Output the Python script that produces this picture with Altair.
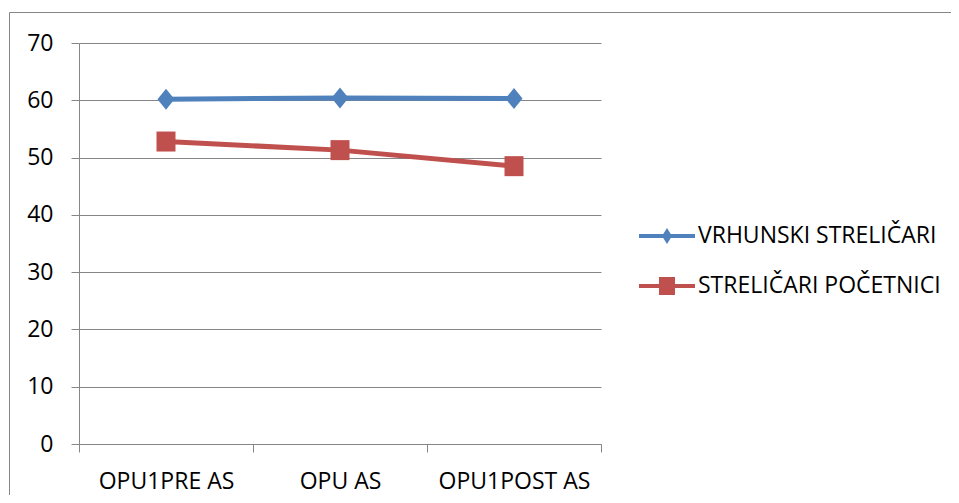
import altair as alt
import pandas as pd

categories = ["OPU1PRE AS", "OPU AS", "OPU1POST AS"]
series_names = ["VRHUNSKI STRELIČARI", "STRELIČARI POČETNICI"]
vrhunski = [60.2, 60.4, 60.3]
pocetnici = [52.8, 51.3, 48.5]
colors = ["#4F81BD", "#C0504D"]

rows = []
for c, v in zip(categories, vrhunski):
    rows.append({"cat": c, "series": series_names[0], "value": v})
for c, v in zip(categories, pocetnici):
    rows.append({"cat": c, "series": series_names[1], "value": v})
df = pd.DataFrame(rows)

FONT = "Open Sans"
FS = 23
W, H = 522, 401

marker_paths = ["M0,-1L0.81,0L0,1L-0.81,0Z", "M-0.95,-1H0.95V1H-0.95Z"]
legend_paths = [
    "M-1,-0.0714H-0.134L0,-0.286L0.134,-0.0714H1V0.0714H0.134L0,0.286L-0.134,0.0714H-1Z",
    "M-1,-0.0714H-0.286V-0.32H0.286V-0.0714H1V0.0714H0.286V0.32H-0.286V0.0714H-1Z",
]

legend_def = alt.Legend(title=None, orient="none", legendX=560, legendY=165,
                        symbolSize=3136, symbolStrokeWidth=0, labelFontSize=FS,
                        labelFont=FONT, labelColor="#000000", labelOffset=3,
                        rowPadding=10, padding=0, labelLimit=400)

x_enc = alt.X("cat:N", sort=categories, title=None,
              scale=alt.Scale(paddingInner=0, paddingOuter=0),
              axis=alt.Axis(labelAngle=0, labelFontSize=FS, labelFont=FONT, labelColor="#000000",
                            domainColor="#868686", tickColor="#868686", tickSize=8,
                            tickBand="extent", labelPadding=18, grid=False))
y_enc = alt.Y("value:Q", title=None,
              scale=alt.Scale(domain=[0, 70], nice=False),
              axis=alt.Axis(values=list(range(0, 71, 10)), labelFontSize=FS, labelFont=FONT,
                            labelColor="#000000", domainColor="#868686", tickColor="#868686",
                            tickSize=8, labelPadding=18, gridColor="#868686", gridWidth=1))
color_enc = alt.Color("series:N", sort=series_names,
                      scale=alt.Scale(domain=series_names, range=colors), legend=legend_def)

lines = alt.Chart(df).mark_line(strokeWidth=5).encode(x=x_enc, y=y_enc, color=color_enc)

pts_blue = alt.Chart(df[df["series"] == series_names[0]]).mark_point(
    filled=True, opacity=1, size=441, strokeWidth=0, shape=marker_paths[0]
).encode(x=x_enc, y=y_enc, color=color_enc)
pts_red = alt.Chart(df[df["series"] == series_names[1]]).mark_point(
    filled=True, opacity=1, size=400, strokeWidth=0, shape=marker_paths[1]
).encode(x=x_enc, y=y_enc, color=color_enc)

legend_layer = alt.Chart(pd.DataFrame({"series": series_names})).mark_point(
    filled=True, opacity=1, strokeWidth=0
).encode(
    x=alt.value(-2000), y=alt.value(-2000),
    color=color_enc,
    shape=alt.Shape("series:N", sort=series_names,
                    scale=alt.Scale(domain=series_names, range=legend_paths),
                    legend=legend_def),
)

TOTAL_W, TOTAL_H = 943, 487
frame = pd.DataFrame({"a": [0]})
border_left = alt.Chart(frame).mark_rule(stroke="#868686", strokeWidth=1, clip=False).encode(
    x=alt.value(-69.5), y=alt.value(-30.5), y2=alt.value(TOTAL_H - 35))
border_top = alt.Chart(frame).mark_rule(stroke="#868686", strokeWidth=1, clip=False).encode(
    x=alt.value(-69.5), x2=alt.value(TOTAL_W - 71), y=alt.value(-30.5))

chart = alt.layer(border_left, border_top, lines, pts_blue, pts_red, legend_layer).properties(
    width=W, height=H,
    padding={"left": 71, "top": 35, "right": TOTAL_W - 71 - W, "bottom": TOTAL_H - 35 - H},
    autosize=alt.AutoSizeParams(type="none"),
    background="#ffffff",
).configure_view(stroke=None)

chart.save("out.html", embed_options={"renderer": "svg", "actions": False})
